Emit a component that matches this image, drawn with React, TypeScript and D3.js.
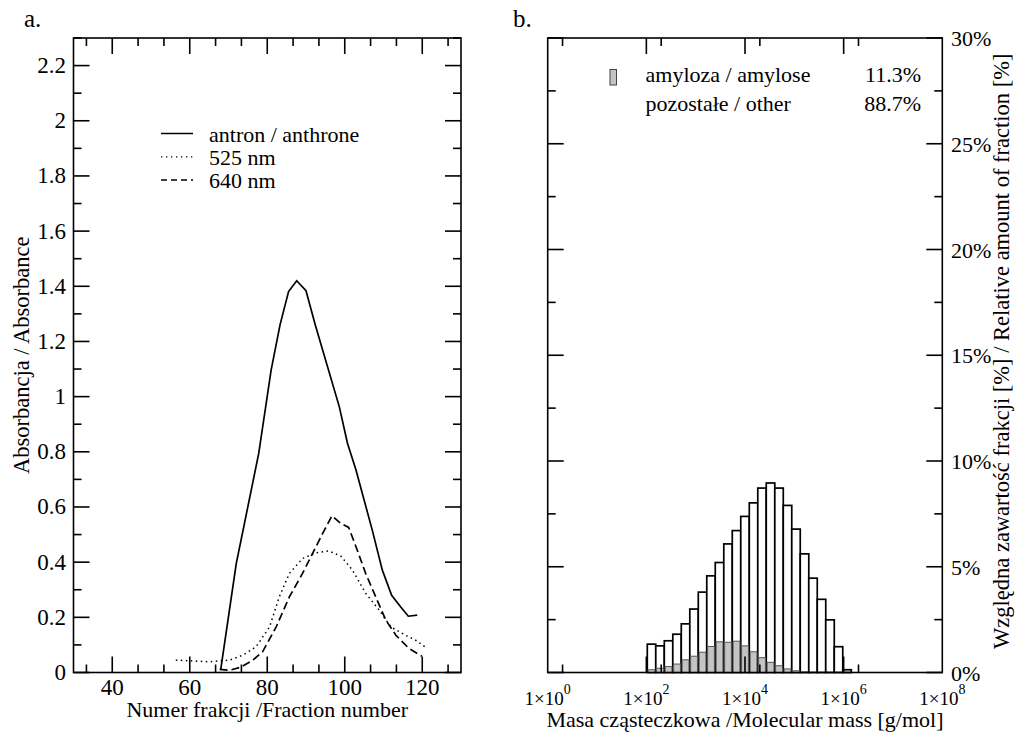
import React from 'react'
import * as d3 from 'd3'

// panel a: absorbance of fractions
const anthroneX = [68.0, 72.0, 77.8, 81.0, 83.3, 85.5, 87.6, 90.0, 92.4, 98.6, 100.7, 102.9, 107.1, 109.7, 112.1, 114.4, 116.4, 118.7]
const anthroneY = [0.011, 0.395, 0.794, 1.096, 1.26, 1.381, 1.42, 1.384, 1.26, 0.963, 0.831, 0.734, 0.516, 0.371, 0.28, 0.238, 0.204, 0.208]

const nm525X = [56.4, 65.1, 70.3, 73.7, 77.1, 80.6, 83.1, 85.7, 89.1, 92.6, 95.8, 99.0, 102.0, 105.4, 108.9, 111.9, 115.7, 118.3, 120.7]
const nm525Y = [0.045, 0.039, 0.045, 0.063, 0.093, 0.165, 0.274, 0.359, 0.413, 0.434, 0.441, 0.422, 0.371, 0.287, 0.226, 0.165, 0.135, 0.117, 0.093]

const nm640X = [67.7, 70.3, 73.3, 76.3, 78.8, 82.3, 85.7, 89.1, 91.7, 94.3, 96.7, 99.0, 101.0, 102.9, 105.4, 108.0, 110.6, 113.2, 116.6, 119.9]
const nm640Y = [0.011, 0.008, 0.02, 0.045, 0.075, 0.165, 0.274, 0.359, 0.432, 0.504, 0.568, 0.54, 0.526, 0.456, 0.359, 0.274, 0.19, 0.135, 0.087, 0.059]

const legendA = ['antron / anthrone', '525 nm', '640 nm']

// panel b: molecular mass histogram, bin edges as log10(M)
const binEdgesLog = [2.019, 2.191, 2.364, 2.536, 2.708, 2.881, 3.053, 3.225, 3.397, 3.570, 3.742, 3.914, 4.087, 4.259, 4.431, 4.604, 4.776, 4.948, 5.120, 5.293, 5.465, 5.637, 5.810, 5.982, 6.155]
const otherPct = [1.34, 1.26, 1.50, 1.81, 2.30, 3.00, 3.80, 4.57, 5.20, 6.08, 6.71, 7.38, 8.02, 8.72, 8.96, 8.72, 7.90, 6.78, 5.61, 4.46, 3.46, 2.49, 1.22, 0.13]
const amylosePct = [0.13, 0.20, 0.28, 0.40, 0.60, 0.77, 0.96, 1.23, 1.45, 1.43, 1.48, 1.26, 0.98, 0.70, 0.48, 0.32, 0.17, 0.08, 0.02, 0, 0, 0, 0, 0]

const legendB = [
  { label: 'amyloza / amylose', share: '11.3%' },
  { label: 'pozostałe / other', share: '88.7%' },
]

const FONT = 'Liberation Serif'
const MAJ = 16
const MIN = 8

const xL = d3.scaleLinear().domain([30, 130]).range([73.5, 461])
const yL = d3.scaleLinear().domain([0, 2.3]).range([672.5, 38])
const xR = d3.scaleLog().domain([1, 1e8]).range([547.7, 942.3])
const yR = d3.scaleLinear().domain([0, 30]).range([672.5, 38])

function path(xs: number[], ys: number[]) {
  return d3.line<number>().x((d, i) => xL(xs[i])).y((d, i) => yL(ys[i]))(xs) || ''
}

// text with the serif face set on the element itself
function T(props: any) {
  const { size, children, ...rest } = props
  return <text {...rest} fontSize={size} fontFamily={FONT} style={{ fontFamily: FONT }}>{children}</text>
}

export default function App() {
  const [lx0, lx1] = xL.range()
  const [ly0, ly1] = yL.range()
  const [rx0, rx1] = xR.range()

  const xMajL = d3.range(40, 121, 20)
  const xMinL = d3.range(-1, 14).filter((k) => k % 3 !== 0).map((k) => 40 + (k * 20) / 3)
  const yMajL = d3.range(0, 12).map((k) => k * 0.2)
  const yMinL = d3.range(0, 12).map((k) => k * 0.2 + 0.1)

  const xMajR = [1e2, 1e4, 1e6]
  const xLabR = [0, 2, 4, 6, 8]
  const xMinR = [2, 2e2, 2e4, 2e6]
  const yMajR = d3.range(0, 31, 5)
  const yMinR = d3.range(2.5, 30, 5)

  const stroke = { stroke: '#000', strokeWidth: 1.6 }

  return (
    <div style={{ position: 'absolute', left: 0, top: 0, width: 1016, height: 733, background: '#fff' }}>
    <svg width={1016} height={733}>
      {/* ---------- panel a ---------- */}
      <T x={24} y={27} size={25}>a.</T>
      <g {...stroke}>
        {xMajL.map((v) => (
          <g key={'xm' + v}>
            <line x1={xL(v)} x2={xL(v)} y1={ly0} y2={ly0 - MAJ} />
            <line x1={xL(v)} x2={xL(v)} y1={ly1} y2={ly1 + MAJ} />
          </g>
        ))}
        {xMinL.map((v) => (
          <g key={'xn' + v}>
            <line x1={xL(v)} x2={xL(v)} y1={ly0} y2={ly0 - MIN} />
            <line x1={xL(v)} x2={xL(v)} y1={ly1} y2={ly1 + MIN} />
          </g>
        ))}
        {yMajL.map((v) => (
          <g key={'ym' + v}>
            <line x1={lx0} x2={lx0 + MAJ} y1={yL(v)} y2={yL(v)} />
            <line x1={lx1} x2={lx1 - MAJ} y1={yL(v)} y2={yL(v)} />
          </g>
        ))}
        {yMinL.map((v) => (
          <g key={'yn' + v}>
            <line x1={lx0} x2={lx0 + MIN} y1={yL(v)} y2={yL(v)} />
            <line x1={lx1} x2={lx1 - MIN} y1={yL(v)} y2={yL(v)} />
          </g>
        ))}
      </g>
      {xMajL.map((v) => (
        <T key={'xl' + v} x={xL(v)} y={695} size={23} textAnchor="middle">{v}</T>
      ))}
      {yMajL.map((v) => (
        <T key={'yl' + v} x={66} y={yL(v) + 7.5} size={23} textAnchor="end">{d3.format('~g')(+v.toFixed(1))}</T>
      ))}
      <T x={(lx0 + lx1) / 2} y={717} size={22} textAnchor="middle">Numer frakcji /Fraction number</T>
      <T transform={`translate(29,${(ly0 + ly1) / 2}) rotate(-90)`} size={22.5} textAnchor="middle">Absorbancja / Absorbance</T>

      <g fill="none" stroke="#000">
        <path d={path(anthroneX, anthroneY)} strokeWidth={1.7} />
        <path d={path(nm525X, nm525Y)} strokeWidth={1.5} strokeDasharray="1.5,3.5" />
        <path d={path(nm640X, nm640Y)} strokeWidth={1.7} strokeDasharray="8,4" />
      </g>

      {legendA.map((t, i) => (
        <g key={t}>
          <line x1={161} x2={193} y1={133.5 + i * 23.3} y2={133.5 + i * 23.3} stroke="#000"
            strokeWidth={i === 1 ? 1.3 : 1.5} strokeDasharray={i === 0 ? undefined : i === 1 ? '1.3,3.7' : '6,4'} />
          <T x={209} y={141.5 + i * 23.3} size={22}>{t}</T>
        </g>
      ))}

      <rect x={lx0} y={ly1} width={lx1 - lx0} height={ly0 - ly1} fill="none" {...stroke} />

      {/* ---------- panel b ---------- */}
      <T x={513} y={27} size={25}>b.</T>

      {otherPct.map((v, i) => (
        <rect key={'o' + i} x={xR(10 ** binEdgesLog[i])} y={yR(v)}
          width={xR(10 ** binEdgesLog[i + 1]) - xR(10 ** binEdgesLog[i])} height={yR(0) - yR(v)}
          fill="#fff" stroke="#000" strokeWidth={1.7} />
      ))}
      {amylosePct.map((v, i) => v > 0 && (
        <rect key={'a' + i} x={xR(10 ** binEdgesLog[i]) + 0.85} y={yR(v)}
          width={xR(10 ** binEdgesLog[i + 1]) - xR(10 ** binEdgesLog[i]) - 1.7} height={yR(0) - yR(v)}
          fill="#c4c4c4" stroke="#555" strokeWidth={1} />
      ))}

      <g {...stroke}>
        {xMajR.map((v) => (
          <g key={'rxm' + v}>
            <line x1={xR(v)} x2={xR(v)} y1={ly0} y2={ly0 - MAJ} />
            <line x1={xR(v)} x2={xR(v)} y1={ly1} y2={ly1 + MAJ} />
          </g>
        ))}
        {xMinR.map((v) => (
          <g key={'rxn' + v}>
            <line x1={xR(v)} x2={xR(v)} y1={ly0} y2={ly0 - MIN} />
            <line x1={xR(v)} x2={xR(v)} y1={ly1} y2={ly1 + MIN} />
          </g>
        ))}
        {yMajR.map((v) => (
          <g key={'rym' + v}>
            <line x1={rx0} x2={rx0 + MAJ} y1={yR(v)} y2={yR(v)} />
            <line x1={rx1} x2={rx1 - MAJ} y1={yR(v)} y2={yR(v)} />
          </g>
        ))}
        {yMinR.map((v) => (
          <g key={'ryn' + v}>
            <line x1={rx0} x2={rx0 + MIN} y1={yR(v)} y2={yR(v)} />
            <line x1={rx1} x2={rx1 - MIN} y1={yR(v)} y2={yR(v)} />
          </g>
        ))}
      </g>
      <rect x={rx0} y={ly1} width={rx1 - rx0} height={ly0 - ly1} fill="none" {...stroke} />

      {xLabR.map((e) => (
        <T key={'rxl' + e} x={xR(10 ** e)} y={705} size={19} textAnchor="middle">
          1×10<tspan dy={-11} fontSize={14}>{e}</tspan>
        </T>
      ))}
      {yMajR.map((v) => (
        <T key={'ryl' + v} x={951} y={yR(v) + 8} size={22} textAnchor="start">{v}%</T>
      ))}
      <T x={(rx0 + rx1) / 2} y={727} size={22} textAnchor="middle">Masa cząsteczkowa /Molecular mass [g/mol]</T>
      <T transform={`translate(1009,${(ly0 + ly1) / 2 - 4}) rotate(-90)`} size={22.5} textAnchor="middle">
        Względna zawartość frakcji [%] / Relative amount of fraction [%]
      </T>

      <rect x={610} y={69.5} width={6.5} height={15.5} fill="#c4c4c4" stroke="#444" strokeWidth={1} />
      {legendB.map((d, i) => (
        <g key={d.label}>
          <T x={645.5} y={82 + i * 28.5} size={22}>{d.label}</T>
          <T x={921} y={82 + i * 28.5} size={22} textAnchor="end">{d.share}</T>
        </g>
      ))}
    </svg>
    </div>
  )
}
